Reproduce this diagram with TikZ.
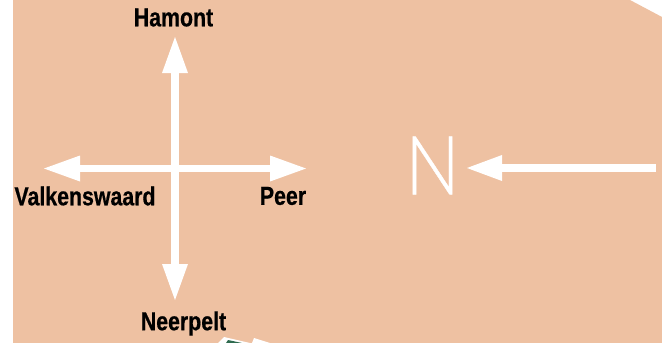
\documentclass[tikz,border=0pt]{standalone}
\usepackage{fontspec}
\setmainfont{Liberation Sans}
\newfontfamily\condbold[FakeStretch=0.82,FakeBold=0.6]{Liberation Sans}
\newfontfamily\thinfont[UprightFont={* Light},FakeStretch=0.88,FakeBold=0.5]{Lato}
\definecolor{peach}{HTML}{EEC1A2}
\definecolor{darkgreen}{HTML}{2F6B4F}
\tikzset{
  lbl/.style={font=\condbold\bfseries\fontsize{26}{28}\selectfont, text=black, inner sep=0pt},
  shaft/.style={draw=white, line width=7.5pt},
  tip/.style={fill=white, draw=none}
}
\begin{document}
\begin{tikzpicture}[x=1pt,y=-1pt]
\useasboundingbox (0,0) rectangle (662,343);
\fill[white] (0,0) rectangle (662,343);
\fill[peach] (13,0) -- (630,0) -- (662,17) -- (662,343) -- (13,343) -- cycle;
% bottom fragment
\fill[white] (218,343) -- (224,337) -- (250,343) -- cycle;
\fill[white] (252,343) -- (254,338) -- (270,343) -- cycle;
\fill[darkgreen] (226,343) -- (228,340) -- (242,343) -- cycle;
% cross
\coordinate (n) at (175,70);
\coordinate (s) at (175,265);
\coordinate (w) at (80,168.5);
\coordinate (e) at (270,168.5);
\draw[shaft] (n) -- (s);
\draw[shaft] (w) -- (e);
\fill[tip] (175,37) -- (188,73) -- (162,73) -- cycle;
\fill[tip] (175,300) -- (188,264) -- (162,264) -- cycle;
\fill[tip] (44,168.5) -- (80,155.5) -- (80,181.5) -- cycle;
\fill[tip] (306,168.5) -- (270,155.5) -- (270,181.5) -- cycle;
% north arrow
\coordinate (a) at (656,168);
\coordinate (b) at (500,168);
\draw[shaft] (a) -- (b);
\fill[tip] (467,168) -- (502,155) -- (502,181) -- cycle;
\node[inner sep=0pt,text=white,font=\thinfont\fontsize{82}{84}\selectfont] (N) at (432.5,165.5) {N};
\node[lbl] (h) at (173.5,17.5) {Hamont};
\node[lbl] (v) at (85,196) {Valkenswaard};
\node[lbl] (p) at (283,196) {Peer};
\node[lbl] (ne) at (183.5,323.5) {Neerpelt};
\end{tikzpicture}
\end{document}
